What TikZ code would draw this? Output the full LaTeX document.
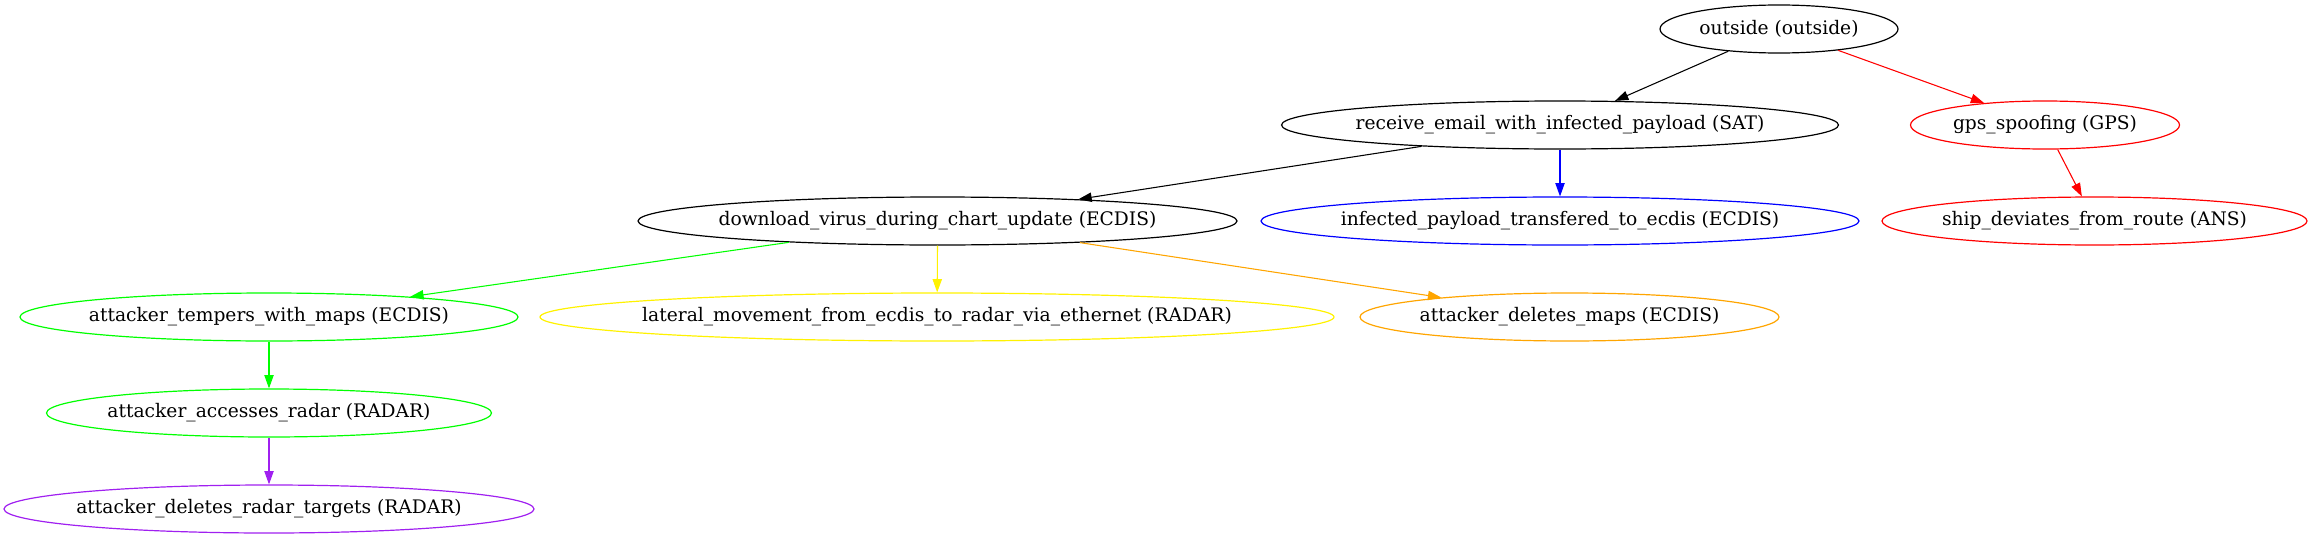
\documentclass[tikz,border=0pt]{standalone}
\usepackage{fontspec}
\setmainfont{DejaVu Serif}
\usetikzlibrary{shapes.geometric,arrows.meta}
\definecolor{gvorange}{HTML}{FFA500}
\definecolor{gvpurple}{HTML}{A020F0}
\tikzset{
  goal/.style={ellipse,draw,line width=0.9pt,minimum height=36pt,inner xsep=-40pt,inner ysep=2pt,font=\fontsize{14}{17}\selectfont},
  hop/.style={-{Triangle[length=10pt,width=7pt]},line width=0.8pt}
}
\begin{document}
\begin{tikzpicture}[x=0.75pt,y=-0.75pt]
\useasboundingbox (0,0) rectangle (2313,539);
\draw (1779,29) node[goal,minimum width=178.5pt] (outside) {outside (outside)};
\draw (1560,125) node[goal,minimum width=417.75pt] (email) {receive\_email\_with\_infected\_payload (SAT)};
\draw (2045,125) node[goal,draw=red,minimum width=201.75pt] (gps) {gps\_spoofing (GPS)};
\draw (937.5,221) node[goal,minimum width=449.25pt] (chart) {download\_virus\_during\_chart\_update (ECDIS)};
\draw (1560,221) node[goal,draw=blue,minimum width=448.5pt] (payload) {infected\_payload\_transfered\_to\_ecdis (ECDIS)};
\draw (2094.5,221) node[goal,draw=red,minimum width=318.75pt] (route) {ship\_deviates\_from\_route (ANS)};
\draw (269,317) node[goal,draw=green,minimum width=373.5pt] (tempers) {attacker\_tempers\_with\_maps (ECDIS)};
\draw (937,317) node[goal,draw=yellow,minimum width=595.5pt] (lateral) {lateral\_movement\_from\_ecdis\_to\_radar\_via\_ethernet (RADAR)};
\draw (1569.5,317) node[goal,draw=gvorange,minimum width=314.25pt] (delmaps) {attacker\_deletes\_maps (ECDIS)};
\draw (269,413) node[goal,draw=green,minimum width=333.75pt] (radar) {attacker\_accesses\_radar (RADAR)};
\draw (269,509) node[goal,draw=gvpurple,minimum width=397.5pt] (targets) {attacker\_deletes\_radar\_targets (RADAR)};
\path[hop] (outside) edge (email);
\path[hop] (outside) edge [red] (gps);
\path[hop] (gps) edge [red] (route);
\path[hop] (email) edge (chart);
\path[hop] (email) edge [blue] (payload);
\path[hop] (chart) edge [green] (tempers);
\path[hop] (chart.south) edge [yellow] (lateral);
\path[hop] (chart) edge [gvorange] (delmaps);
\path[hop] (tempers) edge [green] (radar);
\path[hop] (radar) edge [gvpurple] (targets);
\end{tikzpicture}
\end{document}
